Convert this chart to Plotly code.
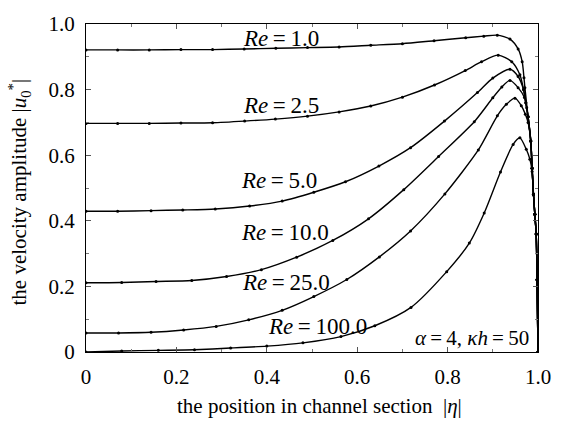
import plotly.graph_objects as go

# ---------------- data ----------------
eta_re1 = [0, 0.07, 0.14, 0.21, 0.28, 0.35, 0.42, 0.49, 0.56, 0.63, 0.70, 0.77, 0.84, 0.88, 0.91,
           0.938, 0.956, 0.965, 0.969, 0.971, 0.978, 0.984, 0.987, 0.990, 0.993, 0.996, 0.998, 1.0]
u_re1 = [0.921, 0.921, 0.921, 0.922, 0.922, 0.924, 0.926, 0.928, 0.930, 0.935, 0.940, 0.949, 0.958, 0.963, 0.966,
         0.954, 0.924, 0.885, 0.836, 0.806, 0.717, 0.643, 0.56, 0.48, 0.42, 0.36, 0.22, 0.0]

eta_re2_5 = [0, 0.07, 0.14, 0.21, 0.28, 0.351, 0.419, 0.49, 0.56, 0.63, 0.70, 0.771, 0.839, 0.875, 0.912,
             0.942, 0.96, 0.968, 0.973, 0.978, 0.984, 0.987, 0.990, 0.993, 0.996, 0.998, 1.0]
u_re2_5 = [0.697, 0.697, 0.697, 0.698, 0.699, 0.704, 0.710, 0.719, 0.732, 0.750, 0.777, 0.814, 0.858, 0.885, 0.905,
           0.885, 0.845, 0.80, 0.76, 0.717, 0.643, 0.56, 0.48, 0.42, 0.36, 0.22, 0.0]

eta_re5 = [0, 0.07, 0.144, 0.214, 0.286, 0.362, 0.434, 0.504, 0.574, 0.648, 0.718, 0.793, 0.866, 0.90, 0.938,
           0.956, 0.968, 0.973, 0.978, 0.984, 0.987, 0.990, 0.993, 0.996, 0.998, 1.0]
u_re5 = [0.429, 0.429, 0.431, 0.433, 0.436, 0.445, 0.460, 0.487, 0.519, 0.567, 0.623, 0.704, 0.791, 0.835, 0.862,
         0.840, 0.80, 0.76, 0.717, 0.643, 0.56, 0.48, 0.42, 0.36, 0.22, 0.0]

eta_re10 = [0, 0.079, 0.155, 0.234, 0.311, 0.388, 0.466, 0.546, 0.625, 0.703, 0.78, 0.859, 0.90, 0.92, 0.938,
            0.956, 0.970, 0.975, 0.978, 0.984, 0.987, 0.990, 0.993, 0.996, 0.998, 1.0]
u_re10 = [0.211, 0.212, 0.215, 0.218, 0.230, 0.251, 0.289, 0.340, 0.406, 0.495, 0.596, 0.702, 0.775, 0.808, 0.828,
          0.806, 0.776, 0.745, 0.717, 0.643, 0.56, 0.48, 0.42, 0.36, 0.22, 0.0]

eta_re25 = [0, 0.072, 0.144, 0.216, 0.288, 0.36, 0.434, 0.504, 0.577, 0.649, 0.718, 0.794, 0.868, 0.91, 0.93,
            0.949, 0.963, 0.972, 0.978, 0.984, 0.987, 0.990, 0.993, 0.996, 0.998, 1.0]
u_re25 = [0.058, 0.058, 0.060, 0.067, 0.078, 0.098, 0.127, 0.169, 0.221, 0.290, 0.369, 0.482, 0.616, 0.72, 0.755,
          0.774, 0.751, 0.725, 0.70, 0.643, 0.56, 0.48, 0.42, 0.36, 0.22, 0.0]

eta_re100 = [0, 0.079, 0.16, 0.24, 0.32, 0.40, 0.48, 0.564, 0.639, 0.719, 0.798, 0.848, 0.881, 0.917, 0.945,
             0.96, 0.974, 0.982, 0.987, 0.990, 0.993, 0.996, 0.998, 1.0]
u_re100 = [0.0, 0.003, 0.005, 0.007, 0.012, 0.018, 0.028, 0.047, 0.080, 0.136, 0.245, 0.332, 0.424, 0.549, 0.633,
           0.653, 0.618, 0.588, 0.55, 0.48, 0.42, 0.36, 0.22, 0.0]

series_labels = ["Re=1.0", "Re=2.5", "Re=5.0", "Re=10.0", "Re=25.0", "Re=100.0"]
series_eta = [eta_re1, eta_re2_5, eta_re5, eta_re10, eta_re25, eta_re100]
series_u = [u_re1, u_re2_5, u_re5, u_re10, u_re25, u_re100]

label_values = ["1.0", "2.5", "5.0", "10.0", "25.0", "100.0"]
label_eta = [0.432, 0.432, 0.428, 0.441, 0.443, 0.512]
label_u = [0.957, 0.753, 0.524, 0.364, 0.213, 0.077]

tick_vals = [0, 0.2, 0.4, 0.6, 0.8, 1.0]
tick_text = ["0", "0.2", "0.4", "0.6", "0.8", "1.0"]

# ---------------- figure ----------------
FONT = "Liberation Serif, Times New Roman, DejaVu Serif, serif"
fig = go.Figure()
for name, xs, ys in zip(series_labels, series_eta, series_u):
    fig.add_trace(go.Scatter(
        x=xs, y=ys, mode="lines+markers", name=name,
        line=dict(color="black", width=1.4, shape="spline", smoothing=0.7),
        marker=dict(color="black", size=3),
        showlegend=False, cliponaxis=True,
    ))

TS = "\u2009"
for v, lx, ly in zip(label_values, label_eta, label_u):
    fig.add_annotation(x=lx, y=ly, xref="x", yref="y",
                       text=f"<i>Re</i>{TS}={TS}{v}", showarrow=False,
                       font=dict(family=FONT, size=23, color="black"),
                       xanchor="center", yanchor="middle")

fig.add_annotation(x=0.854, y=0.044, xref="x", yref="y",
                   text=f"<i>α</i>{TS}={TS}4, <i>κh</i>{TS}={TS}50", showarrow=False,
                   font=dict(family=FONT, size=21, color="black"),
                   xanchor="center", yanchor="middle")

# axis titles
fig.add_annotation(x=0.516, y=-0.166, xref="paper", yref="paper",
                   text="the position in channel section  |<i>η</i>|", showarrow=False,
                   font=dict(family=FONT, size=21, color="black"),
                   xanchor="center", yanchor="middle")
fig.add_annotation(x=-0.147, y=0.488, xref="paper", yref="paper",
                   text="the velocity amplitude |<i>u</i><sub>0</sub><sup>*</sup>|", showarrow=False,
                   textangle=-90,
                   font=dict(family=FONT, size=21, color="black"),
                   xanchor="center", yanchor="middle")

axis_common = dict(
    range=[0, 1], showgrid=False, zeroline=False,
    showline=True, linecolor="black", linewidth=1.2, mirror="allticks",
    ticks="inside", ticklen=5, tickcolor="#555", tickwidth=1,
    tickvals=tick_vals, ticktext=tick_text,
    tickfont=dict(family=FONT, size=21, color="black"),
    minor=dict(ticks="inside", ticklen=3, tickcolor="#777", dtick=0.1, showgrid=False),
)

fig.update_layout(
    width=563, height=425,
    margin=dict(l=86, r=14, t=14, b=73),
    paper_bgcolor="white", plot_bgcolor="white",
    xaxis=dict(**axis_common, ticklabelstandoff=6),
    yaxis=dict(**axis_common, ticklabelstandoff=6),
)

fig.write_html("out.html")
